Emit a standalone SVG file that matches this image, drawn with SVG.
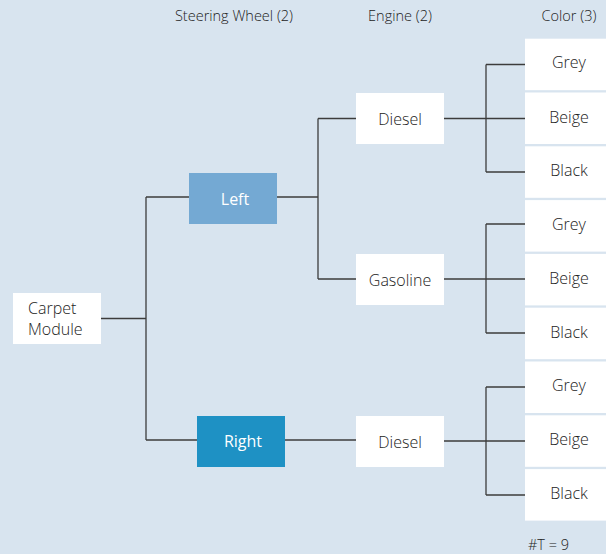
<svg xmlns="http://www.w3.org/2000/svg" width="606" height="554" viewBox="0 0 606 554">
  <style>
    .bg { fill: #d8e4ef; }
    .box { fill: #ffffff; }
    .left { fill: #74a9d3; }
    .right { fill: #1e91c4; }
    .lbl { font-family: "Open Sans", "Noto Sans", sans-serif; font-size: 16px; font-weight: 300; fill: #222222; text-anchor: middle; }
    .lblw { fill: #ffffff; font-weight: 400; }
    .hdr { font-family: "Open Sans", "Noto Sans", sans-serif; font-size: 14.5px; font-weight: 300; fill: #222222; text-anchor: middle; }
    .wire { fill: none; stroke: #3c3c3c; stroke-width: 1.3; }
  </style>

  <rect class="bg" x="0" y="0" width="606" height="554"/>

  <!-- column headers -->
  <text class="hdr" x="234" y="21">Steering Wheel (2)</text>
  <text class="hdr" x="400" y="21">Engine (2)</text>
  <text class="hdr" x="569" y="21">Color (3)</text>

  <!-- connectors -->
  <g id="connectors">
    <path class="wire" d="M101 318.5 H146 M146 197 V440 M146 197 H189 M146 440 H197"/>
    <path class="wire" d="M277 197 H318 M318 118.5 V279 M318 118.5 H356 M318 279 H356"/>
    <path class="wire" d="M285 440 H356"/>
    <path class="wire" d="M444 118.5 H525 M486 64.5 V172 M486 64.5 H525 M486 172 H525"/>
    <path class="wire" d="M444 279 H525 M486 224 V333 M486 224 H525 M486 333 H525"/>
    <path class="wire" d="M444 441 H525 M486 387 V495 M486 387 H525 M486 495 H525"/>
  </g>

  <!-- root -->
  <g id="carpet-module">
    <rect class="box" x="13" y="293" width="88" height="51"/>
    <text class="lbl" x="28" y="314" style="text-anchor:start">Carpet</text>
    <text class="lbl" x="28" y="335" style="text-anchor:start">Module</text>
  </g>

  <!-- steering wheel -->
  <g id="sw-left">
    <rect class="left" x="189" y="173" width="88" height="51"/>
    <text class="lbl lblw" x="235" y="205">Left</text>
  </g>
  <g id="sw-right">
    <rect class="right" x="197" y="416" width="88" height="51"/>
    <text class="lbl lblw" x="243" y="447">Right</text>
  </g>

  <!-- engine -->
  <g id="engine-diesel-1">
    <rect class="box" x="356" y="93" width="88" height="51"/>
    <text class="lbl" x="400" y="124.5">Diesel</text>
  </g>
  <g id="engine-gasoline">
    <rect class="box" x="356" y="254" width="88" height="51"/>
    <text class="lbl" x="400" y="285.5">Gasoline</text>
  </g>
  <g id="engine-diesel-2">
    <rect class="box" x="356" y="416" width="88" height="51"/>
    <text class="lbl" x="400" y="447.5">Diesel</text>
  </g>

  <!-- colors -->
  <g id="color-grey-1"><rect class="box" x="525" y="38.7" width="88" height="51.5"/><text class="lbl" x="569" y="68.2">Grey</text></g>
  <g id="color-beige-1"><rect class="box" x="525" y="92.5" width="88" height="51.5"/><text class="lbl" x="569" y="122.5">Beige</text></g>
  <g id="color-black-1"><rect class="box" x="525" y="146.3" width="88" height="51.5"/><text class="lbl" x="569" y="176.3">Black</text></g>
  <g id="color-grey-2"><rect class="box" x="525" y="200.1" width="88" height="51.5"/><text class="lbl" x="569" y="229.6">Grey</text></g>
  <g id="color-beige-2"><rect class="box" x="525" y="253.9" width="88" height="51.5"/><text class="lbl" x="569" y="283.9">Beige</text></g>
  <g id="color-black-2"><rect class="box" x="525" y="307.7" width="88" height="51.5"/><text class="lbl" x="569" y="337.7">Black</text></g>
  <g id="color-grey-3"><rect class="box" x="525" y="361.5" width="88" height="51.5"/><text class="lbl" x="569" y="391">Grey</text></g>
  <g id="color-beige-3"><rect class="box" x="525" y="415.3" width="88" height="51.5"/><text class="lbl" x="569" y="445.3">Beige</text></g>
  <g id="color-black-3"><rect class="box" x="525" y="469.1" width="88" height="51.5"/><text class="lbl" x="569" y="499.1">Black</text></g>

  <text class="hdr" x="548.5" y="550">#T = 9</text>
</svg>
